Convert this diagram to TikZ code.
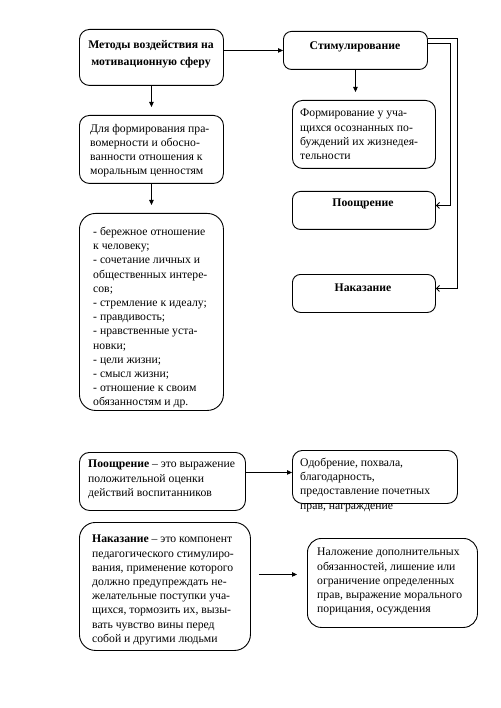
\documentclass[tikz,border=0pt]{standalone}
\usepackage{fontspec}
\setmainfont{Liberation Serif}
\usetikzlibrary{arrows.meta,calc}
\begin{document}
\begin{tikzpicture}[x=1pt,y=-1pt,
 box/.style={draw, line width=0.9pt, rounded corners=#1, anchor=north west, inner sep=0pt},
 box/.default=8pt,
 txt/.style={anchor=north west, inner sep=0pt, align=left, font=\fontsize{11.7}{14.2}\selectfont},
 ttl/.style={inner sep=0pt, align=center, font=\fontsize{11.7}{17.7}\selectfont\bfseries},
 arr/.style={line width=0.9pt, -{Triangle[length=5pt,width=4.5pt]}},
 barb/.style={line width=0.9pt, -{Straight Barb[length=3pt,width=6pt]}}]
\useasboundingbox (0,0) rectangle (500,708);

% boxes
\node[box=10pt, minimum width=144pt, minimum height=56pt] (m1) at (79,29) {};
\node[box=8pt, minimum width=144pt, minimum height=38pt] (stim) at (283,31) {};
\node[box=10pt, minimum width=144pt, minimum height=68pt] (b2) at (79,115) {};
\node[box=16pt, minimum width=144pt, minimum height=197pt] (b3) at (79,213) {};
\node[box=10pt, minimum width=143pt, minimum height=68pt] (form) at (292,100) {};
\node[box=8pt, minimum width=143pt, minimum height=38pt] (poo) at (292,191) {};
\node[box=8pt, minimum width=143pt, minimum height=38pt] (nak) at (292,274) {};
\node[box=10pt, minimum width=166pt, minimum height=58pt] (pd) at (79,452) {};
\node[box=10pt, minimum width=165pt, minimum height=53pt] (od) at (292,450) {};
\node[box=16pt, minimum width=171pt, minimum height=128pt] (nd) at (79,522) {};
\node[box=14pt, minimum width=170pt, minimum height=89pt] (nal) at (307,538) {};

% texts
\node[ttl, anchor=north] (m1t) at (151,40) {Методы воздействия на\\мотивационную сферу};
\node[ttl] (stimt) at (355,46.5) {Стимулирование};
\node[ttl] (poot) at (363,204) {Поощрение};
\node[ttl] (nakt) at (363,288) {Наказание};
\node[txt] (b2t) at (90,124) {Для формирования пра-\\вомерности и обосно-\\ванности отношения к\\моральным ценностям};
\node[txt] (b3t) at (93,227) {- бережное отношение\\к человеку;\\- сочетание личных и\\общественных интере-\\сов;\\- стремление к идеалу;\\- правдивость;\\- нравственные уста-\\новки;\\- цели жизни;\\- смысл жизни;\\- отношение к своим\\обязанностям и др.};
\node[txt] (formt) at (300,109) {Формирование у уча-\\щихся осознанных по-\\буждений их жизнедея-\\тельности};
\node[txt] (pdt) at (88,460) {\textbf{Поощрение} – это выражение\\положительной оценки\\действий воспитанников};
\node[txt] (odt) at (300,458) {Одобрение, похвала,\\благодарность,\\предоставление почетных\\прав, награждение};
\node[txt] (ndt) at (92,535) {\textbf{Наказание} – это компонент\\педагогического стимулиро-\\вания, применение которого\\должно предупреждать не-\\желательные поступки уча-\\щихся, тормозить их, вызы-\\вать чувство вины перед\\собой и другими людьми};
\node[txt] (nalt) at (317,548) {Наложение дополнительных\\обязанностей, лишение или\\ограничение определенных\\прав, выражение морального\\порицания, осуждения};

% connectors
\draw[arr] (m1.east |- stim.west) -- (stim.west);
\draw[arr, shorten >=8pt] (m1.south) -- (b2.north);
\draw[arr, shorten >=8pt] (b2.south) -- (b3.north);
\draw[arr, shorten >=8pt] (stim.south) -- (stim.south |- form.north);
\draw[barb] ([yshift=6.7pt]stim.east) -- ++(23,0) |- ([yshift=5pt]poo.east);
\draw[barb] ([yshift=11.7pt]stim.east) -- ++(30,0) |- ([yshift=5pt]nak.east);
\draw[arr] ([yshift=9pt]pd.east) -- ([yshift=9pt]pd.east -| od.west);
\draw[arr, shorten <=8pt, shorten >=10pt] ([yshift=12pt]nd.east) -- ([yshift=12pt]nd.east -| nal.west);
\end{tikzpicture}
\end{document}
